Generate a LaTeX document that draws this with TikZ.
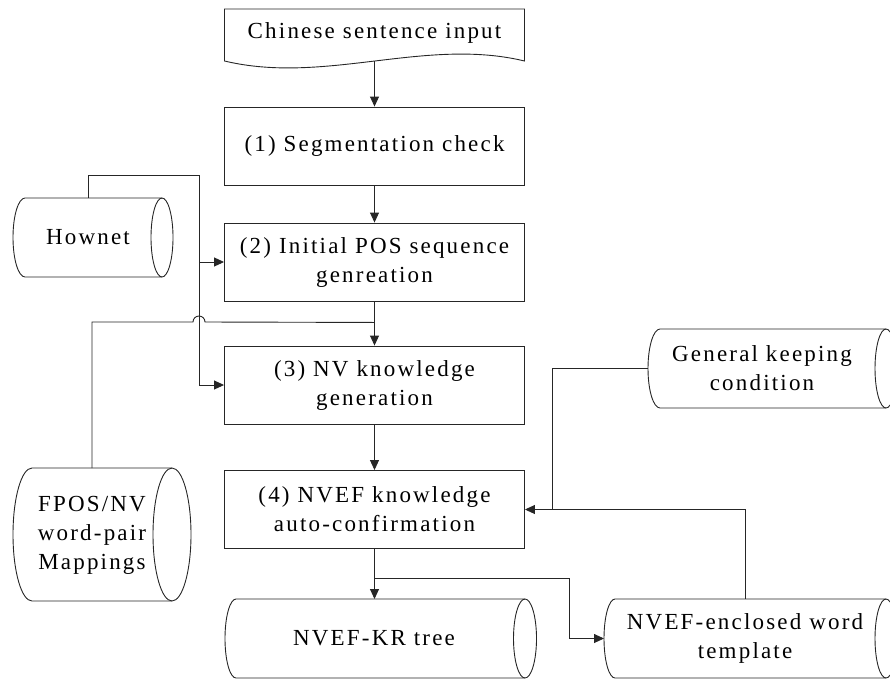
\documentclass[tikz,border=0pt]{standalone}
\usepackage{fontspec}
\setmainfont{Liberation Serif}
\newfontfamily\figfont{Liberation Serif}[LetterSpace=9.5]
\usetikzlibrary{arrows.meta,calc,fit}
\tikzset{
  ln/.style={line width=0.9pt, draw=black!85},
  arr/.style={ln, -{Triangle[length=10pt,width=9pt]}},
  txt/.style={font=\figfont\fontsize{23}{29}\selectfont, align=center, inner sep=0pt},
  stepbox/.style={ln, txt, minimum width=300pt, minimum height=78pt},
  inv/.style={draw=none, inner sep=0pt, outer sep=0pt},
}
% name, S (top line start), C (face centre), left rx, face rx, top, bottom, half height
\newcommand\mycyl[8]{%
  \node[inv, fit={({#2-#4},{-#6}) ({#3+#5},{-#7})}] (#1) {};
  \draw[ln] (#2,-#6) -- (#3,-#6) arc[start angle=90,end angle=-90,x radius=#5pt,y radius=#8pt]
     -- (#2,-#7) arc[start angle=270,end angle=90,x radius=#4pt,y radius=#8pt] -- cycle;
  \draw[ln] (#3,-#6) arc[start angle=90,end angle=270,x radius=#5pt,y radius=#8pt];
}
\begin{document}
\begin{tikzpicture}[x=1pt,y=1pt]
\useasboundingbox (0,0) rectangle (890,-680);
\clip (0,0) rectangle (890,-680);

% input document
\node[inv, minimum width=300pt, minimum height=52pt] (in) at (374.5,-35) {};
\draw[ln] (in.north west) -- (in.north east) -- (in.south east)
   .. controls (425,-37) and (325,-85) .. (in.south west) -- cycle;
\node[txt] (int) at (374.5,-33) {Chinese sentence input};

% process boxes
\node[stepbox] (b1) at (374.5,-146)   {(1) Segmentation check};
\node[stepbox] (b2) at (374.5,-262)   {(2) Initial POS sequence\\genreation};
\node[stepbox] (b3) at (374.5,-385)   {(3) NV knowledge\\generation};
\node[stepbox] (b4) at (374.5,-509.5) {(4) NVEF knowledge\\auto-confirmation};

% stores
\mycyl{hn}{25}{162}{12}{11}{198}{277}{39.5}
\node[txt] (hnt) at (88,-237) {Hownet};
\mycyl{fp}{32}{172}{19}{19}{468}{601}{66.5}
\node[txt] (fpt) at (92,-535) {FPOS/NV\\word-pair\\Mappings};
\mycyl{gk}{660}{886}{12}{11}{329}{408}{39.5}
\node[txt] (gkt) at (762,-368) {General keeping\\condition};
\mycyl{kr}{236}{525}{11}{11.5}{599}{678}{39.5}
\node[txt] (krt) at (374,-638) {NVEF-KR tree};
\mycyl{en}{615}{886}{11}{11}{599}{678}{39.5}
\node[txt] (ent) at (745,-638) {NVEF-enclosed word\\template};

% main flow
\draw[arr] (in.south) -- (b1.north);
\draw[arr] (b1.south) -- (b2.north);
\draw[arr] (b2.south) -- (b3.north);
\draw[arr] (b3.south) -- (b4.north);
\draw[arr] (b4.south) -- (b4.south |- kr.north);

% branch to word template
\coordinate (br) at ($(b4.south)+(0,-29)$);
\coordinate (brc) at (569,-638.5);
\draw[arr] (br) -| (brc) -- (en.west);

% Hownet feeds (2) and (3)
\coordinate (hx) at (199,-175);
\draw[ln] (hnt |- hn.north) |- (hx) -- (hx |- b3.west);
\draw[arr] (hx |- b2.west) -- (b2.west);
\draw[arr] (hx |- b3.west) -- (b3.west);

% FPOS/NV mapping joins (2)->(3) line with a hop over Hownet line
\coordinate (fj) at ($(b2.south)+(0,-21)$);
\coordinate (hopl) at (193,-322);
\draw[ln] (fpt |- fp.north) |- (hopl) arc[start angle=180,end angle=0,radius=6pt] -- (fj);

% general keeping condition and word template feed (4)
\coordinate (jj) at ($(b4.east)+(27,0)$);
\draw[arr] (gk.west) -| (jj) -- (b4.east);
\draw[ln] (ent |- en.north) |- (jj);
\end{tikzpicture}
\end{document}
